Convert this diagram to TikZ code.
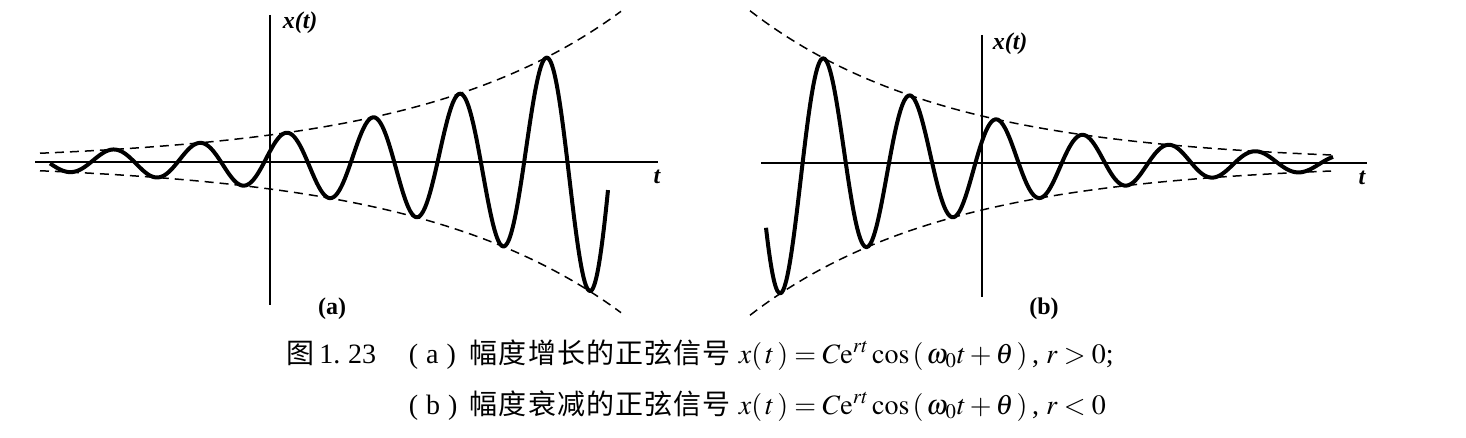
\documentclass[tikz,border=0pt]{standalone}
\usepackage{mathptmx}
\usepackage{fontspec}
\setmainfont{Liberation Serif}
\newfontfamily\cjk[LetterSpace=4]{Noto Sans CJK SC}

\begin{document}
\begin{tikzpicture}[x=.5pt,y=-.5pt,line width=.8pt,
  wave/.style={line width=2pt,line join=round,smooth,samples=300},
  env/.style={line width=.75pt,dash pattern=on 4.5pt off 3pt,smooth,samples=100},
  axlbl/.style={font=\fontsize{12}{14}\selectfont\bfseries\itshape,inner sep=0pt},
  sublbl/.style={font=\fontsize{12}{14}\selectfont\bfseries,inner sep=0pt},
  captext/.style={font=\fontsize{14}{17}\selectfont,inner sep=0pt,anchor=base west},
  eqtext/.style={font=\fontsize{14}{17}\selectfont,inner sep=0pt,anchor=base west}]
\useasboundingbox (0,0) rectangle (1466,438);
% Axes (a)
\coordinate (atop) at (270,15);
\coordinate (abot) at (270,305);
\coordinate (aleft) at (35,162);
\coordinate (aright) at (658,162);
\draw (atop)--(abot);
\draw (aleft)--(aright);
\node[axlbl, anchor=base west] (xa) at (282,29) {x(t)};
\node[axlbl] (ta) at (657,177) {t};
\node[sublbl] (la) at (332,309) {(a)};
% Envelope and signal (a)
\draw[env,domain=40:621] plot (\x,{162-27*exp(0.0049*(\x-270))});
\draw[env,domain=40:621] plot (\x,{162+27*exp(0.0049*(\x-270))});
\draw[wave,domain=50:608] plot (\x,{162-27*exp(0.0049*(\x-270))*cos(4.157*(\x-286))});

% Axes (b)
\coordinate (btop) at (982,35);
\coordinate (bbot) at (982,297);
\coordinate (bleft) at (761,163);
\coordinate (bright) at (1367,163);
\draw (btop)--(bbot);
\draw (bleft)--(bright);
\node[axlbl, anchor=base west] (xb) at (992,50) {x(t)};
\node[axlbl] (tb) at (1362,178) {t};
\node[sublbl] (lb) at (1044,309) {(b)};
% Envelope and signal (b)
\draw[env,domain=750:1331] plot (\x,{163-47*exp(-0.00507*(\x-982))});
\draw[env,domain=750:1331] plot (\x,{163+47*exp(-0.00507*(\x-982))});
\draw[wave,domain=766:1333] plot (\x,{163-47*exp(-0.00507*(\x-982))*cos(4.1667*(\x-997))});

% Caption
\node[captext] (fig) at (286,363) {{\cjk 图}\,1.\;23};
\node[captext] (capa) at (408,363) {(\hspace{4pt}a\hspace{4pt})};
\node[captext] (txta) at (469,363) {\cjk 幅度增长的正弦信号};
\node[eqtext] (eqa) at (738,363) {$x(\,t\,)=C\mathrm{e}^{rt}\cos\,(\,\omega_0t+\theta\,)$\,, $r>0$;};
\node[captext] (capb) at (408,414) {(\hspace{4pt}b\hspace{4pt})};
\node[captext] (txtb) at (469,414) {\cjk 幅度衰减的正弦信号};
\node[eqtext] (eqb) at (738,414) {$x(\,t\,)=C\mathrm{e}^{rt}\cos\,(\,\omega_0t+\theta\,)$\,, $r<0$};
\end{tikzpicture}
\end{document}
